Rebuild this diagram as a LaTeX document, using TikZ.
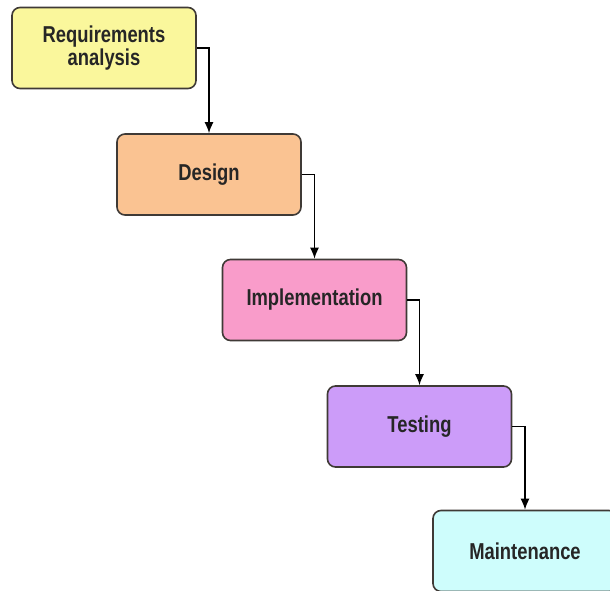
\documentclass[tikz,border=0pt]{standalone}
\usepackage{fontspec}
\setmainfont{Liberation Sans}[FakeStretch=0.8]
\usetikzlibrary{arrows.meta}
\definecolor{reqcol}{HTML}{FAF79C}
\definecolor{descol}{HTML}{FAC392}
\definecolor{impcol}{HTML}{F99CCA}
\definecolor{tescol}{HTML}{CC9CF9}
\definecolor{maicol}{HTML}{CEFDFC}
\definecolor{edge}{HTML}{3F3A36}
\begin{document}
\begin{tikzpicture}[x=1pt,y=-1pt,
        phase/.style={draw=edge,line width=1.6pt,rounded corners=8pt,
            minimum width=184pt,minimum height=81pt,inner sep=0pt,
            align=center,font=\fontsize{23}{23.5}\selectfont\bfseries,
            text=black!85},
        flow/.style={line width=1.5pt,-{Latex[length=11pt,width=9pt]}}]
    \fill[white] (0,0) rectangle (610,591);
    \useasboundingbox (0,0) rectangle (610,591);
    \clip (0,0) rectangle (610,591);

\node[phase,fill=reqcol] (req) at (104,48) {Requirements\\analysis};
\node[phase,fill=descol] (des) at (209,174.5) {Design};
\node[phase,fill=impcol] (imp) at (314.5,300) {Implementation};
\node[phase,fill=tescol] (tes) at (419.5,426.5) {Testing};
\node[phase,fill=maicol] (mai) at (525,551) {Maintenance};

\draw[flow] (req.east) -| (des.north);
\draw[flow] (des.east) -| (imp.north);
\draw[flow] (imp.east) -| (tes.north);
\draw[flow] (tes.east) -| (mai.north);

\end{tikzpicture}
\end{document}
